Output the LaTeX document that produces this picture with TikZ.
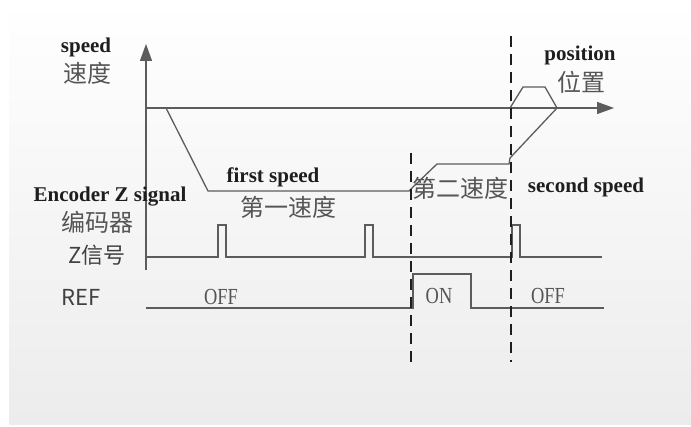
\documentclass[tikz,border=0pt]{standalone}
\usepackage{fontspec}
\setmainfont{Liberation Serif}
\newfontfamily\cjk{Noto Sans CJK SC}
\newfontfamily\condserif[FakeStretch=0.8]{Liberation Serif}
\usetikzlibrary{arrows.meta}
\definecolor{linegray}{HTML}{5c5c5c}
\definecolor{textdark}{HTML}{1e1e1e}
\definecolor{textgray}{HTML}{555555}
\definecolor{bgbottom}{HTML}{ececec}

\begin{document}
\begin{tikzpicture}[x=1pt, y=1pt,
    sig/.style={draw=linegray, line width=1.3pt},
    cut/.style={draw=textdark, line width=1.4pt, dash pattern=on 11pt off 7pt},
    entxt/.style={font=\bfseries\fontsize{21}{22}\selectfont, text=textdark, inner sep=0pt},
    cntxt/.style={font=\cjk\fontsize{24}{26}\selectfont, text=textgray, inner sep=0pt},
    sanstxt/.style={font=\cjk\fontsize{22}{24}\selectfont, text=textdark!85, inner sep=0pt},
    lvltxt/.style={font=\condserif\fontsize{23}{25}\selectfont, text=textgray, inner sep=0pt},
    axisarrow/.style={-{Triangle[length=17pt,width=12pt]}}]

  \useasboundingbox (0,-427) rectangle (691,0);
  \fill[white] (0,-427) rectangle (691,0);
  \shade[top color=white, bottom color=bgbottom] (9,-425) rectangle (691,0);

  % axes
  \draw[sig, axisarrow] (146,-270) -- (146,-44);
  \draw[sig, axisarrow] (146,-108) -- (614,-108);

  % speed profile
  \draw[sig] (166,-108) -- (208,-191) -- (409,-191) -- (413,-187) -- (437,-164)
    -- (509,-164) -- (510,-158) -- (557,-108);
  \draw[sig] (510,-108) -- (523,-87) -- (545,-87) -- (557,-108);

  % encoder Z signal
  \draw[sig] (146,-257) foreach \px in {218,365,512} {
      -- (\px,-257) -- (\px,-225) -- (\px+8,-225) -- (\px+8,-257)} -- (602,-257);

  % REF
  \draw[sig] (146,-308) -- (413,-308) -- (413,-274) -- (471,-274) -- (471,-308) -- (604,-308);

  % switching instants
  \draw[cut] (411,-153) -- (411,-362);
  \draw[cut] (511,-36) -- (511,-362);

  \node[entxt] (speedlbl) at (86,-47) {speed};
  \node[cntxt] (speedcn) at (87,-73) {速度};
  \node[entxt] (enclbl) at (110,-197) {Encoder Z signal};
  \node[cntxt] (enccn) at (97,-222) {编码器};
  \node[sanstxt] (zlbl) at (97,-255) {Z信号};
  \node[sanstxt] (reflbl) at (81,-297) {REF};
  \node[entxt] (firstlbl) at (273,-177) {first speed};
  \node[cntxt] (firstcn) at (288,-207) {第一速度};
  \node[cntxt] (secondcn) at (460,-188) {第二速度};
  \node[entxt] (secondlbl) at (586,-187) {second speed};
  \node[entxt] (poslbl) at (580,-55) {position};
  \node[cntxt] (poscn) at (581,-82) {位置};
  \node[lvltxt] (offa) at (221,-297) {OFF};
  \node[lvltxt] (onlbl) at (439,-296) {ON};
  \node[lvltxt] (offb) at (548,-296) {OFF};
\end{tikzpicture}
\end{document}
